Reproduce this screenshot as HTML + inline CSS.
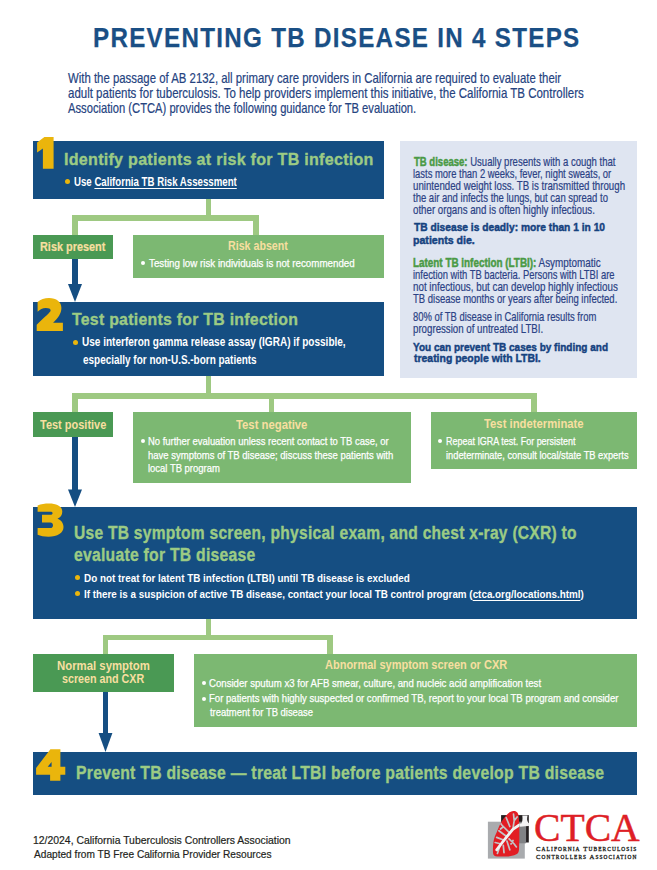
<!DOCTYPE html><html><head><meta charset="utf-8"><title>Preventing TB Disease in 4 Steps</title><style>
html,body{margin:0;padding:0;background:#fff;width:657px;height:870px;overflow:hidden;position:relative}
.r{position:absolute}
.l{position:absolute;white-space:nowrap;line-height:1;transform-origin:0 0}
#ct1,#ct2{letter-spacing:1.1px;-webkit-text-stroke:0.3px #231f20}
#ctca{-webkit-text-stroke:0.5px #de1f26}
#title{letter-spacing:1.5px;-webkit-text-stroke:0.4px #1a4f85}
#t1,#t2,#t3a,#t3b,#t4{letter-spacing:0.3px;-webkit-text-stroke:0.35px #9ccb84}
u{text-decoration:underline;text-decoration-thickness:1px;text-underline-offset:1.5px;text-decoration-skip-ink:none}

</style></head><body>
<div class="r" style="left:400px;top:141px;width:237px;height:237px;background:#dfe5f1"></div>
<div class="r" style="left:33px;top:141px;width:351px;height:58px;background:#154e82"></div>
<div class="r" style="left:206px;top:199px;width:5px;height:22px;background:#9ec982"></div>
<div class="r" style="left:72px;top:215px;width:187px;height:6px;background:#9ec982"></div>
<div class="r" style="left:72px;top:215px;width:6px;height:20px;background:#9ec982"></div>
<div class="r" style="left:253px;top:215px;width:6px;height:20px;background:#9ec982"></div>
<div class="r" style="left:33px;top:235px;width:80px;height:24px;background:#4a9954"></div>
<div class="r" style="left:133px;top:235px;width:251px;height:43px;background:#7cb872"></div>
<div class="r" style="left:72px;top:259px;width:6px;height:26px;background:#154e82"></div>
<div class="r" style="left:33px;top:302px;width:351px;height:74px;background:#154e82"></div>
<div class="r" style="left:206px;top:376px;width:5px;height:23px;background:#9ec982"></div>
<div class="r" style="left:72px;top:393px;width:465px;height:6px;background:#9ec982"></div>
<div class="r" style="left:72px;top:393px;width:6px;height:19px;background:#9ec982"></div>
<div class="r" style="left:269px;top:393px;width:5px;height:19px;background:#9ec982"></div>
<div class="r" style="left:531px;top:393px;width:6px;height:19px;background:#9ec982"></div>
<div class="r" style="left:33px;top:412px;width:80px;height:25px;background:#4a9954"></div>
<div class="r" style="left:133px;top:412px;width:278px;height:71px;background:#7cb872"></div>
<div class="r" style="left:431px;top:412px;width:206px;height:57px;background:#7cb872"></div>
<div class="r" style="left:72px;top:437px;width:6px;height:53px;background:#154e82"></div>
<div class="r" style="left:33px;top:507px;width:604px;height:112px;background:#154e82"></div>
<div class="r" style="left:206px;top:619px;width:5px;height:21px;background:#9ec982"></div>
<div class="r" style="left:103px;top:635px;width:230px;height:5px;background:#9ec982"></div>
<div class="r" style="left:103px;top:635px;width:5px;height:19px;background:#9ec982"></div>
<div class="r" style="left:327px;top:635px;width:6px;height:19px;background:#9ec982"></div>
<div class="r" style="left:33px;top:654px;width:141px;height:38px;background:#4a9954"></div>
<div class="r" style="left:194px;top:654px;width:443px;height:73px;background:#7cb872"></div>
<div class="r" style="left:103px;top:692px;width:5px;height:42px;background:#154e82"></div>
<div class="r" style="left:33px;top:752px;width:604px;height:43px;background:#154e82"></div>
<svg class="r" style="left:0;top:0" width="657" height="870"><polygon points="68,284 82,284 75.0,302" fill="#154e82"/><polygon points="68,489.4 82,489.4 75.0,507" fill="#154e82"/><polygon points="98.6,733 112.4,733 105.5,752" fill="#154e82"/></svg>
<svg class="r" style="left:0;top:0" width="657" height="870"><path fill="#eab50c" d="M44.4,136.9 L53.6,136.9 L53.6,168.8 L42.9,168.8 L42.9,148.6 L37.1,152.5 L37.1,142.5 Z"/><path fill="#eab50c" d="M37.6,302 C40.5,299.5 44.5,298.1 49,298.1 C56.5,298.1 61.4,302 61.4,308 C61.4,313.5 58,318 53.1,322.8 L62.9,322.8 L62.9,331 L36.7,331 L36.7,324.8 C42,319.5 46.5,315.5 49,313 C50.3,311.7 50.6,311 50.6,310.3 C50.6,308.8 48.8,308.1 45.8,308.1 C42.5,308.1 40,309.5 37.6,311.8 Z"/><path fill="#eab50c" d="M37.6,505.5 C41,504 45,503.5 49,503.5 C57,503.5 62.3,506.5 62.3,511.5 C62.3,515 60.5,517.5 57.5,518.8 C61,520 63.5,523 63.5,527 C63.5,533 57.5,536.7 48.5,536.7 C44,536.7 40.5,536 37.6,534.8 Z"/><path fill="#154e82" d="M37,511.8 L50.5,511.8 C51.8,511.8 52.6,512.4 52.6,513.2 C52.6,514 51.8,514.7 50.5,514.7 L42,514.7 L42,522.4 L50.5,522.4 C52,522.4 53,523.6 53,525.2 C53,526.8 52,528.1 50.5,528.1 L37,528.1 Z"/><path fill="#eab50c" fill-rule="evenodd" d="M50.4,749.2 L60.4,749.2 L60.4,766.8 L65.3,766.8 L65.3,774.7 L60.4,774.7 L60.4,780.8 L50.1,780.8 L50.1,774.7 L36.1,774.7 L36.1,768 Z M47.7,766.8 L51.6,766.8 L51.6,762 Z"/></svg>
<div class="r" style="left:64.80px;top:178.90px;width:5px;height:5px;border-radius:50%;background:#eab50c"></div>
<div class="r" style="left:72.90px;top:340.00px;width:5px;height:5px;border-radius:50%;background:#eab50c"></div>
<div class="r" style="left:75.00px;top:575.30px;width:5px;height:5px;border-radius:50%;background:#eab50c"></div>
<div class="r" style="left:75.00px;top:591.30px;width:5px;height:5px;border-radius:50%;background:#eab50c"></div>
<div class="r" style="left:141.00px;top:260.50px;width:4px;height:4px;border-radius:50%;background:#fff"></div>
<div class="r" style="left:140.90px;top:439.20px;width:4px;height:4px;border-radius:50%;background:#fff"></div>
<div class="r" style="left:438.00px;top:439.20px;width:4px;height:4px;border-radius:50%;background:#fff"></div>
<div class="r" style="left:202.10px;top:681.30px;width:4px;height:4px;border-radius:50%;background:#fff"></div>
<div class="r" style="left:202.10px;top:697.00px;width:4px;height:4px;border-radius:50%;background:#fff"></div>
<svg class="r" style="left:480px;top:800px" width="60" height="70" viewBox="0 0 60 70">
<rect x="7.9" y="21.7" width="36.9" height="36.9" fill="#a9abae"/>
<rect x="21.1" y="15.1" width="27.7" height="27.4" fill="#231f20"/>
<rect x="21.1" y="21.7" width="25" height="21.6" fill="#808285"/>
<path d="M33.5,11.1 C36.5,10.8 38.6,13 38.8,17 L39.3,24.3 L39.3,38.9 L39,49.8 C38.8,52.5 37.5,54 36.4,54.2 C33,56 29,56.4 26.9,56.4 L17.4,56.4 C14.5,56.4 13,55 13,52.7 C12.8,49 13,45.5 13.4,42.5 C14,38.5 15,35.5 16.7,32.3 C18,29 19.5,25 21.8,21.3 C24,17.5 26,15.5 28.4,13.3 C30,12 31.5,11.2 33.5,11.1 Z" fill="#e21d24"/>
<defs><clipPath id="lc"><path d="M33.5,11.1 C36.5,10.8 38.6,13 38.8,17 L39.3,24.3 L39.3,38.9 L39,49.8 C38.8,52.5 37.5,54 36.4,54.2 C33,56 29,56.4 26.9,56.4 L17.4,56.4 C14.5,56.4 13,55 13,52.7 C12.8,49 13,45.5 13.4,42.5 C14,38.5 15,35.5 16.7,32.3 C18,29 19.5,25 21.8,21.3 C24,17.5 26,15.5 28.4,13.3 C30,12 31.5,11.2 33.5,11.1 Z"/></clipPath></defs>
<g clip-path="url(#lc)" stroke="#c3c4c6" stroke-width="1.7" fill="none" stroke-linecap="round" stroke-linejoin="round">
<path d="M32.8,29.4 L34.2,20.6 L33.5,14 M34.2,20.6 L37.1,17 M29.8,26.5 L26.2,17.7 M29.1,32.3 L21.8,25 L19.6,22 M26.9,36.7 L18.9,30.8 M24,40.3 L16.7,37.4 M21.1,44 L15.2,42.5 M29.1,38.9 L34.2,44 L36.4,46.9 M26.9,41 L29.8,49.8 M23.3,45.4 L24,52.7 M19.6,46.9 L17.4,53.5 M23,27 L20.5,29 M31,44 L33,40.5"/>
</g>
<path d="M39.3,25 L32.8,29.4 L26.9,36.7 L21.1,44 L16.7,49.8" clip-path="url(#lc)" stroke="#f2f2f3" stroke-width="2.8" fill="none" stroke-linecap="round" stroke-linejoin="round"/>
<path d="M48.8,24.3 L39.3,25" stroke="#f2f2f3" stroke-width="2.8" fill="none"/>
<path d="M42.3,15.5 L47.6,15.5 C46.8,18.5 46.8,21 48.8,23.5 L48.8,26 L40,26.5 C42.5,23 42.8,19 42.3,15.5 Z" fill="#f4f4f5"/>
</svg>
<div class="l" id="title" style="left:92.73px;top:21.70px;font:700 28px 'Liberation Sans', sans-serif;color:#1a4f85;transform:scaleX(0.8636);-webkit-text-stroke:0.25px #1a4f85">PREVENTING TB DISEASE IN 4 STEPS</div>
<div class="l" id="i1" style="left:67.82px;top:68.60px;font:400 15px 'Liberation Sans', sans-serif;color:#25437f;transform:scaleX(0.7592);-webkit-text-stroke:0.2px #25437f">With the passage of AB 2132, all primary care providers in California are required to evaluate their</div>
<div class="l" id="i2" style="left:67.68px;top:83.70px;font:400 15px 'Liberation Sans', sans-serif;color:#25437f;transform:scaleX(0.7662);-webkit-text-stroke:0.2px #25437f">adult patients for tuberculosis. To help providers implement this initiative, the California TB Controllers</div>
<div class="l" id="i3" style="left:67.75px;top:99.20px;font:400 15px 'Liberation Sans', sans-serif;color:#25437f;transform:scaleX(0.7462);-webkit-text-stroke:0.2px #25437f">Association (CTCA) provides the following guidance for TB evaluation.</div>
<div class="l" id="t1" style="left:63.60px;top:149.27px;font:700 17.4px 'Liberation Sans', sans-serif;color:#9ccb84;transform:scaleX(0.9236)">Identify patients at risk for TB infection</div>
<div class="l" id="b1" style="left:74.30px;top:175.10px;font:700 12.4px 'Liberation Sans', sans-serif;color:#fff;transform:scaleX(0.7791)">Use <u>California TB Risk Assessment</u></div>
<div class="l" id="rp" style="left:39.65px;top:240.14px;font:700 12px 'Liberation Sans', sans-serif;color:#f7dfa0;transform:scaleX(0.9077);-webkit-text-stroke:0.2px #f7dfa0">Risk present</div>
<div class="l" id="ra" style="left:227.74px;top:239.34px;font:700 12px 'Liberation Sans', sans-serif;color:#f7dfa0;transform:scaleX(0.8885)">Risk absent</div>
<div class="l" id="ra1" style="left:148.92px;top:256.77px;font:400 11.5px 'Liberation Sans', sans-serif;color:#fff;transform:scaleX(0.8490);-webkit-text-stroke:0.25px #fff">Testing low risk individuals is not recommended</div>
<div class="l" id="t2" style="left:72.44px;top:309.07px;font:700 17.4px 'Liberation Sans', sans-serif;color:#9ccb84;transform:scaleX(0.9107)">Test patients for TB infection</div>
<div class="l" id="b2a" style="left:82.20px;top:335.24px;font:700 12px 'Liberation Sans', sans-serif;color:#fff;transform:scaleX(0.8358)">Use interferon gamma release assay (IGRA) if possible,</div>
<div class="l" id="b2b" style="left:82.79px;top:352.59px;font:700 12px 'Liberation Sans', sans-serif;color:#fff;transform:scaleX(0.8294)">especially for non-U.S.-born patients</div>
<div class="l" id="tp" style="left:39.97px;top:417.54px;font:700 12px 'Liberation Sans', sans-serif;color:#f7dfa0;transform:scaleX(0.9154)">Test positive</div>
<div class="l" id="tn" style="left:235.74px;top:417.84px;font:700 12px 'Liberation Sans', sans-serif;color:#f7dfa0;transform:scaleX(0.9420)">Test negative</div>
<div class="l" id="tn1" style="left:148.41px;top:434.57px;font:400 11.5px 'Liberation Sans', sans-serif;color:#fff;transform:scaleX(0.8204);-webkit-text-stroke:0.25px #fff">No further evaluation unless recent contact to TB case, or</div>
<div class="l" id="tn2" style="left:147.82px;top:448.57px;font:400 11.5px 'Liberation Sans', sans-serif;color:#fff;transform:scaleX(0.8258);-webkit-text-stroke:0.25px #fff">have symptoms of TB disease; discuss these patients with</div>
<div class="l" id="tn3" style="left:147.86px;top:461.57px;font:400 11.5px 'Liberation Sans', sans-serif;color:#fff;transform:scaleX(0.8220);-webkit-text-stroke:0.25px #fff">local TB program</div>
<div class="l" id="ti" style="left:483.99px;top:417.24px;font:700 12px 'Liberation Sans', sans-serif;color:#f7dfa0;transform:scaleX(0.9415)">Test indeterminate</div>
<div class="l" id="ti1" style="left:445.98px;top:435.27px;font:400 11.5px 'Liberation Sans', sans-serif;color:#fff;transform:scaleX(0.7792);-webkit-text-stroke:0.25px #fff">Repeat IGRA test. For persistent</div>
<div class="l" id="ti2" style="left:446.39px;top:448.67px;font:400 11.5px 'Liberation Sans', sans-serif;color:#fff;transform:scaleX(0.8074);-webkit-text-stroke:0.25px #fff">indeterminate, consult local/state TB experts</div>
<div class="l" id="t3a" style="left:73.82px;top:523.10px;font:700 17.6px 'Liberation Sans', sans-serif;color:#9ccb84;transform:scaleX(0.8850)">Use TB symptom screen, physical exam, and chest x-ray (CXR) to</div>
<div class="l" id="t3b" style="left:74.31px;top:544.55px;font:700 17.6px 'Liberation Sans', sans-serif;color:#9ccb84;transform:scaleX(0.8922)">evaluate for TB disease</div>
<div class="l" id="b3a" style="left:84.48px;top:570.71px;font:700 11.8px 'Liberation Sans', sans-serif;color:#fff;transform:scaleX(0.8373)">Do not treat for latent TB infection (LTBI) until TB disease is excluded</div>
<div class="l" id="b3b" style="left:84.38px;top:586.71px;font:700 11.8px 'Liberation Sans', sans-serif;color:#fff;transform:scaleX(0.8350)">If there is a suspicion of active TB disease, contact your local TB control program (<u>ctca.org/locations.html</u>)</div>
<div class="l" id="ns1" style="left:57.18px;top:658.54px;font:700 12px 'Liberation Sans', sans-serif;color:#f7dfa0;transform:scaleX(0.9480)">Normal symptom</div>
<div class="l" id="ns2" style="left:62.15px;top:671.64px;font:700 12px 'Liberation Sans', sans-serif;color:#f7dfa0;transform:scaleX(0.8933)">screen and CXR</div>
<div class="l" id="ab" style="left:324.68px;top:658.34px;font:700 12px 'Liberation Sans', sans-serif;color:#f7dfa0;transform:scaleX(0.9167)">Abnormal symptom screen or CXR</div>
<div class="l" id="ab1" style="left:209.49px;top:676.87px;font:400 11.5px 'Liberation Sans', sans-serif;color:#fff;transform:scaleX(0.8366);-webkit-text-stroke:0.25px #fff">Consider sputum x3 for AFB smear, culture, and nucleic acid amplification test</div>
<div class="l" id="ab2" style="left:209.48px;top:692.27px;font:400 11.5px 'Liberation Sans', sans-serif;color:#fff;transform:scaleX(0.8315);-webkit-text-stroke:0.25px #fff">For patients with highly suspected or confirmed TB, report to your local TB program and consider</div>
<div class="l" id="ab3" style="left:210.04px;top:705.57px;font:400 11.5px 'Liberation Sans', sans-serif;color:#fff;transform:scaleX(0.8199);-webkit-text-stroke:0.25px #fff">treatment for TB disease</div>
<div class="l" id="t4" style="left:75.97px;top:762.86px;font:700 18px 'Liberation Sans', sans-serif;color:#9ccb84;transform:scaleX(0.8752)">Prevent TB disease — treat LTBI before patients develop TB disease</div>
<div class="l" id="p1" style="left:413.97px;top:154.53px;font:400 11.9px 'Liberation Sans', sans-serif;color:#2b4285;transform:scaleX(0.8020);-webkit-text-stroke:0.2px #2b4285"><b style="color:#4a9a45;-webkit-text-stroke:0.45px #4a9a45">TB disease:</b> Usually presents with a cough that</div>
<div class="l" id="p2" style="left:412.60px;top:166.73px;font:400 11.9px 'Liberation Sans', sans-serif;color:#2b4285;transform:scaleX(0.7914);-webkit-text-stroke:0.2px #2b4285">lasts more than 2 weeks, fever, night sweats, or</div>
<div class="l" id="p3" style="left:412.88px;top:178.63px;font:400 11.9px 'Liberation Sans', sans-serif;color:#2b4285;transform:scaleX(0.8149);-webkit-text-stroke:0.2px #2b4285">unintended weight loss. TB is transmitted through</div>
<div class="l" id="p4" style="left:413.44px;top:191.23px;font:400 11.9px 'Liberation Sans', sans-serif;color:#2b4285;transform:scaleX(0.7992);-webkit-text-stroke:0.2px #2b4285">the air and infects the lungs, but can spread to</div>
<div class="l" id="p5" style="left:413.24px;top:203.28px;font:400 11.9px 'Liberation Sans', sans-serif;color:#2b4285;transform:scaleX(0.8164);-webkit-text-stroke:0.2px #2b4285">other organs and is often highly infectious.</div>
<div class="l" id="pb1" style="left:413.91px;top:219.98px;font:700 11.6px 'Liberation Sans', sans-serif;color:#15427f;transform:scaleX(0.8823);-webkit-text-stroke:0.45px #15427f">TB disease is deadly: more than 1 in 10</div>
<div class="l" id="pb2" style="left:412.73px;top:233.48px;font:700 11.6px 'Liberation Sans', sans-serif;color:#15427f;transform:scaleX(0.9137);-webkit-text-stroke:0.45px #15427f">patients die.</div>
<div class="l" id="q1" style="left:413.23px;top:255.63px;font:400 11.9px 'Liberation Sans', sans-serif;color:#2b4285;transform:scaleX(0.8314);-webkit-text-stroke:0.2px #2b4285"><b style="color:#4a9a45;-webkit-text-stroke:0.45px #4a9a45">Latent TB infection (LTBI):</b> Asymptomatic</div>
<div class="l" id="q2" style="left:412.65px;top:268.03px;font:400 11.9px 'Liberation Sans', sans-serif;color:#2b4285;transform:scaleX(0.7895);-webkit-text-stroke:0.2px #2b4285">infection with TB bacteria. Persons with LTBI are</div>
<div class="l" id="q3" style="left:413.21px;top:279.73px;font:400 11.9px 'Liberation Sans', sans-serif;color:#2b4285;transform:scaleX(0.8240);-webkit-text-stroke:0.2px #2b4285">not infectious, but can develop highly infectious</div>
<div class="l" id="q4" style="left:413.32px;top:292.48px;font:400 11.9px 'Liberation Sans', sans-serif;color:#2b4285;transform:scaleX(0.7986);-webkit-text-stroke:0.2px #2b4285">TB disease months or years after being infected.</div>
<div class="l" id="r1" style="left:413.28px;top:309.93px;font:400 11.9px 'Liberation Sans', sans-serif;color:#2b4285;transform:scaleX(0.7929);-webkit-text-stroke:0.2px #2b4285">80% of TB disease in California results from</div>
<div class="l" id="r2" style="left:413.11px;top:321.58px;font:400 11.9px 'Liberation Sans', sans-serif;color:#2b4285;transform:scaleX(0.8152);-webkit-text-stroke:0.2px #2b4285">progression of untreated LTBI.</div>
<div class="l" id="s1" style="left:413.15px;top:339.83px;font:700 11.6px 'Liberation Sans', sans-serif;color:#15427f;transform:scaleX(0.8632);-webkit-text-stroke:0.45px #15427f">You can prevent TB cases by finding and</div>
<div class="l" id="s2" style="left:413.61px;top:351.48px;font:700 11.6px 'Liberation Sans', sans-serif;color:#15427f;transform:scaleX(0.8998);-webkit-text-stroke:0.45px #15427f">treating people with LTBI.</div>
<div class="l" id="f1" style="left:33.33px;top:833.69px;font:400 11px 'Liberation Sans', sans-serif;color:#231f20;transform:scaleX(0.9468);-webkit-text-stroke:0.2px #231f20">12/2024, California Tuberculosis Controllers Association</div>
<div class="l" id="f2" style="left:34.45px;top:848.09px;font:400 11px 'Liberation Sans', sans-serif;color:#231f20;transform:scaleX(0.9212);-webkit-text-stroke:0.2px #231f20">Adapted from TB Free California Provider Resources</div>
<div class="l" id="ctca" style="left:534.06px;top:805.19px;font:400 39px 'Liberation Serif', serif;color:#de1f26;transform:scaleX(1.0160)">CTCA</div>
<div class="l" id="ct1" style="left:535.82px;top:845.46px;font:400 6.9px 'Liberation Serif', serif;color:#231f20;transform:scaleX(0.9837)">C<span style="font-size:80%">ALIFORNIA</span> T<span style="font-size:80%">UBERCULOSIS</span></div>
<div class="l" id="ct2" style="left:536.05px;top:852.56px;font:400 6.9px 'Liberation Serif', serif;color:#231f20;transform:scaleX(0.9721)">C<span style="font-size:80%">ONTROLLERS</span> A<span style="font-size:80%">SSOCIATION</span></div>
</body></html>
